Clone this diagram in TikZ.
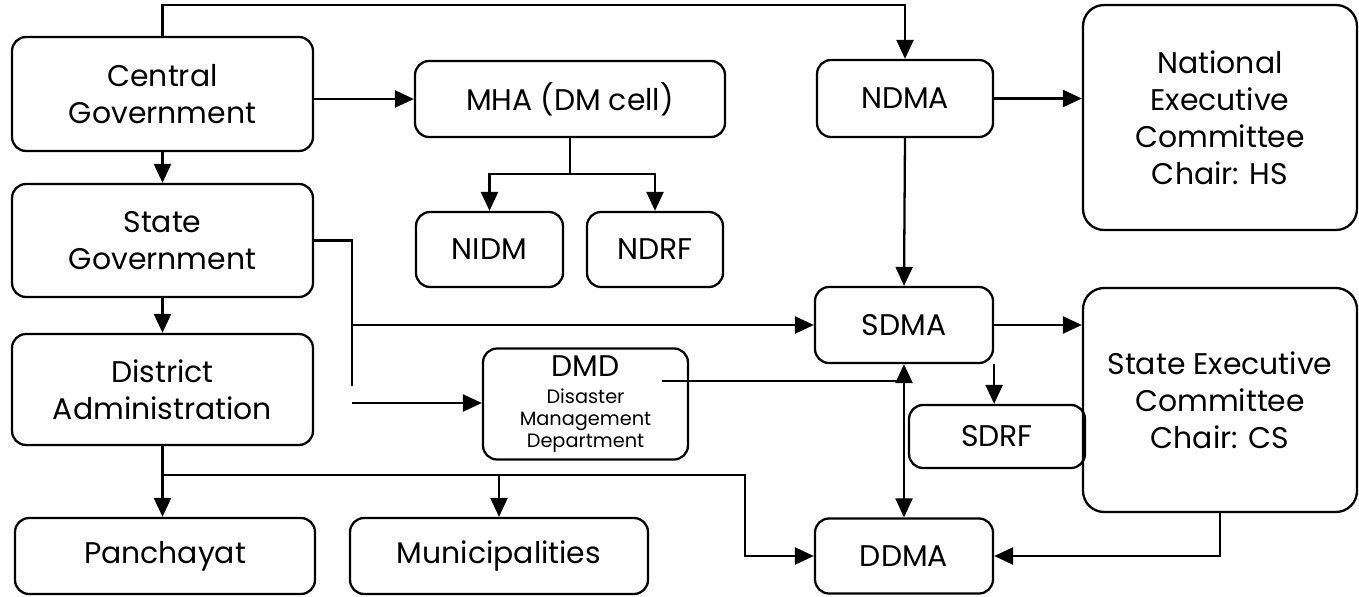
\documentclass[tikz,border=0pt]{standalone}
\usepackage{fontspec}
\setmainfont{Poppins}
\usetikzlibrary{arrows.meta,positioning,calc}

\begin{document}
\begin{tikzpicture}[x=0.02cm,y=-0.02cm,
  box/.style={draw,line width=1.3pt,rounded corners=0.28cm,align=center,inner sep=0pt,font=\fontsize{17}{21}\selectfont},
  bigbox/.style={box,rounded corners=0.42cm},
  arrow/.style={-{Triangle[length=3.8mm,width=3.4mm]},line width=1.3pt},
  biarrow/.style={{Triangle[length=3.8mm,width=3.4mm]}-{Triangle[length=3.8mm,width=3.4mm]},line width=1.3pt},
  link/.style={line width=1.3pt}
]
\useasboundingbox (0,0) rectangle (1359,596);
% left column
\node[box,minimum width=6.02cm,minimum height=2.28cm] (cg) at (162.5,94) {Central\\Government};
\node[box,minimum width=6.02cm,minimum height=2.26cm] (sg) at (162.5,240.5) {State\\Government};
\node[box,minimum width=6.02cm,minimum height=2.22cm] (da) at (162.5,389.5) {District\\Administration};
\node[box,minimum width=6cm,minimum height=1.52cm] (pan) at (165,556) {Panchayat};
\node[box,minimum width=5.96cm,minimum height=1.52cm] (mun) at (499,556) {Municipalities};
% middle
\node[box,minimum width=6.2cm,minimum height=1.52cm] (mha) at (570,99) {MHA (DM cell)};
\node[box,minimum width=2.94cm,minimum height=1.5cm] (nidm) at (489.5,249.5) {NIDM};
\node[box,minimum width=2.72cm,minimum height=1.5cm] (ndrf) at (655,249.5) {NDRF};
\node[box,minimum width=4.1cm,minimum height=2.22cm,font=\fontsize{11}{12.5}\selectfont] (dmd) at (585.5,404)
  {{\fontsize{17}{21}\selectfont DMD}\\[3pt]Disaster\\Management\\Department};
% authorities
\node[box,minimum width=3.52cm,minimum height=1.54cm] (ndma) at (905,98.5) {NDMA};
\node[box,minimum width=3.56cm,minimum height=1.52cm] (sdma) at (904,325) {SDMA};
\node[box,minimum width=3.56cm,minimum height=1.5cm] (ddma) at (904,556) {DDMA};
\node[box,minimum width=3.52cm,minimum height=1.26cm] (sdrf) at (997,436.5) {SDRF};
% committees
\node[bigbox,minimum width=5.48cm,minimum height=4.5cm] (nec) at (1220,117.5) {National\\Executive\\Committee\\Chair: HS};
\node[bigbox,minimum width=5.48cm,minimum height=4.48cm] (sec) at (1220,400) {State Executive\\Committee\\Chair: CS};
% helper points
\coordinate (top) at (162.5,5);
\coordinate (dab) at (745,475);
% connectors
\draw[arrow] (cg.north) -- (top) -| (ndma.north);
\draw[arrow] (cg.east |- mha.west) -- (mha.west);
\draw[arrow] (cg.south) -- (sg.north);
\draw[arrow] (sg.south) -- (da.north);
\draw[arrow] (mha.south) -- ++(0,36) -| (nidm.north);
\draw[arrow] (mha.south) -- ++(0,36) -| (ndrf.north);
\draw[arrow] (ndma.east) -- (ndma.east -| nec.west);
\draw[arrow] (ndma.south) -- (sdma.north);
\draw[arrow] (sdma.east) -- (sdma.east -| sec.west);
\draw[arrow] (sdma.south east) -- (sdma.south east |- sdrf.north);
\draw[biarrow] (sdma.south) -- (ddma.north);
\draw[arrow] (sec.south) |- (ddma.east);
\draw[link] (sg.east) -- ++(38,0) coordinate (sgx) -- ++(0,145);
\draw[arrow] (sgx |- sdma.west) -- (sdma.west);
\draw[arrow] (sgx |- 0,403) -- (dmd.west |- 0,403);
\draw[link] ($(dmd.east)+(-27,-23)$) coordinate (dmdl) -- (dmdl -| sdma.south);
\draw[arrow] (da.south) -- (da.south |- pan.north);
\draw[arrow] (da.south |- dab) -- (dab) |- (ddma.west);
\draw[arrow] (mun.north |- dab) -- (mun.north);
\end{tikzpicture}
\end{document}
